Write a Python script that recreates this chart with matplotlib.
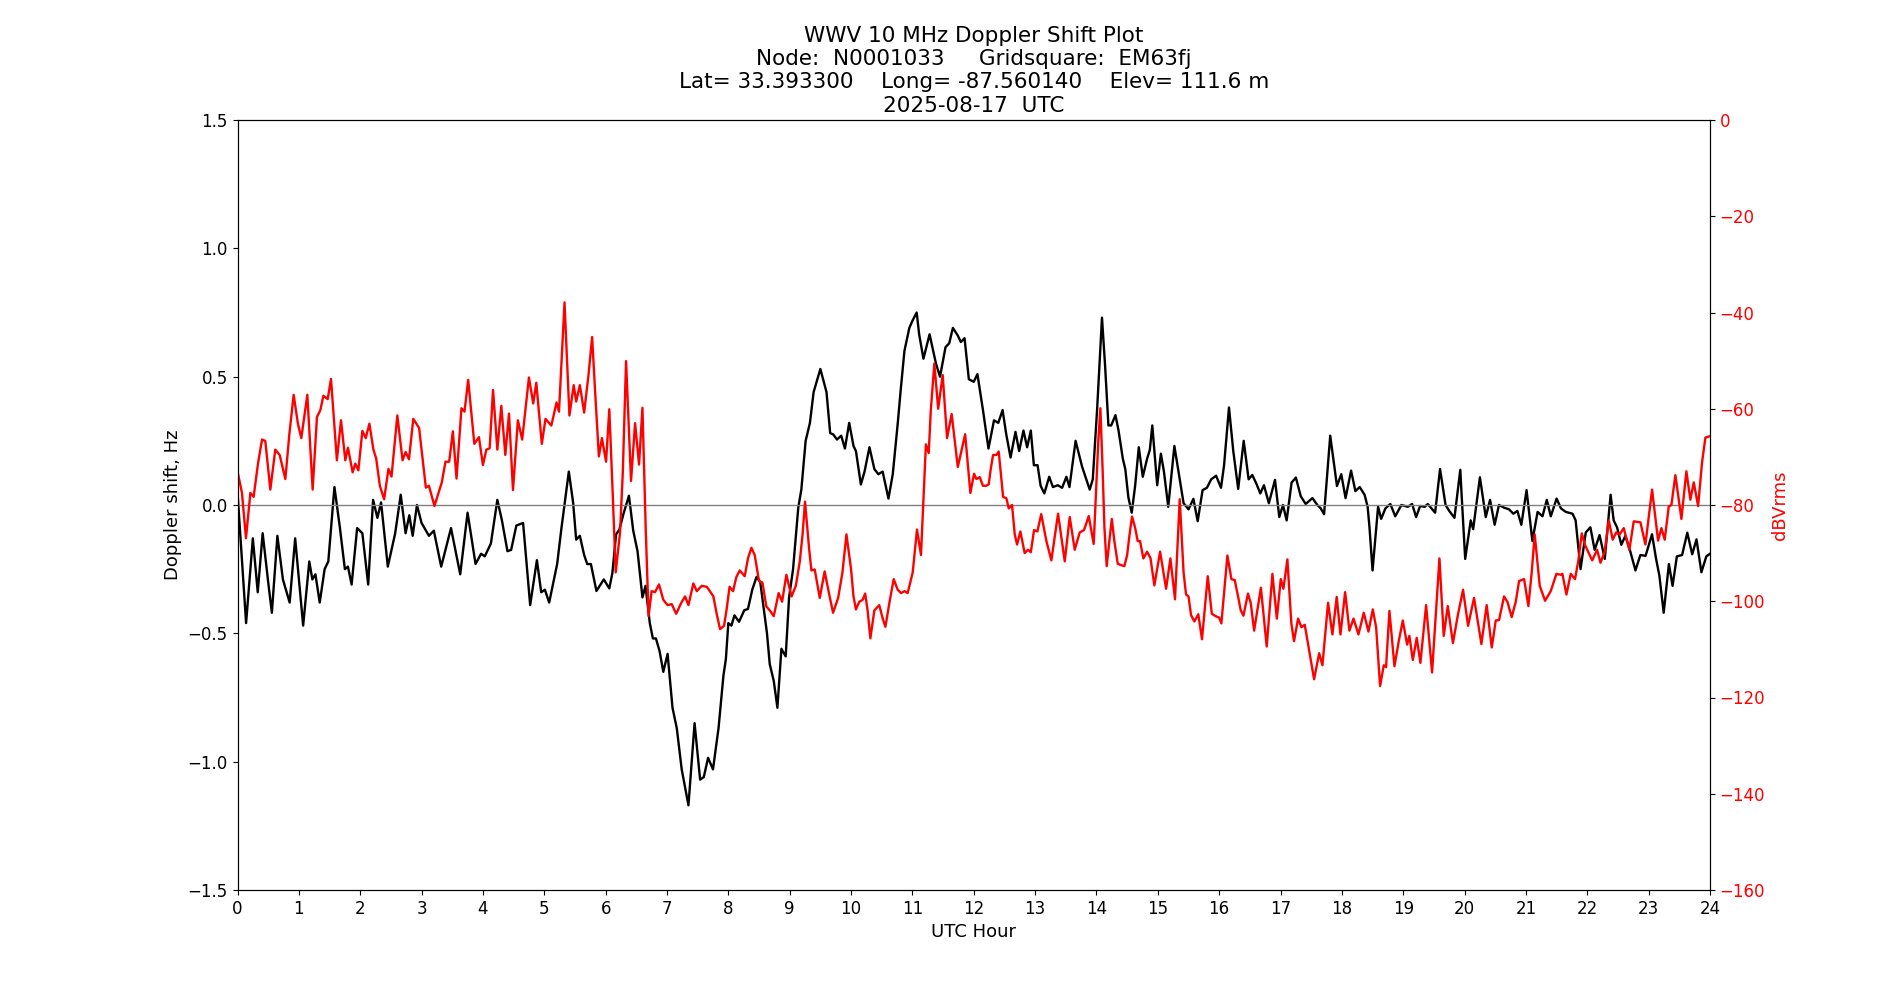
import numpy as np
import matplotlib
matplotlib.use('Agg')
import matplotlib.pyplot as plt

#--------------------------------------------------#
title_lines = ['WWV 10 MHz Doppler Shift Plot',
               'Node:  N0001033     Gridsquare:  EM63fj',
               'Lat= 33.393300    Long= -87.560140    Elev= 111.6 m',
               '2025-08-17  UTC']
xname = 'UTC Hour'
y1name = 'Doppler shift, Hz'
y2name = 'dBVrms'
hour_ticks = list(range(0, 25))
shift_ticks = [-1.5, -1.0, -0.5, 0.0, 0.5, 1.0, 1.5]
power_ticks = [-160, -140, -120, -100, -80, -60, -40, -20, 0]

#Doppler shift (Hz), one line per 2 hours.
shift_hr = [0.0, 0.14, 0.25, 0.33, 0.41, 0.50, 0.56, 0.65, 0.74, 0.85, 0.94, 1.07, 1.17, 1.22, 1.27, 1.34, 1.42, 1.48, 1.58, 1.67, 1.75, 1.80, 1.86, 1.95,
            2.035, 2.13, 2.21, 2.28, 2.34, 2.45, 2.57, 2.66, 2.74, 2.80, 2.855, 2.925, 3.0, 3.12, 3.20, 3.32, 3.48, 3.63, 3.75, 3.88, 3.97,
            4.03, 4.13, 4.235, 4.31, 4.40, 4.46, 4.545, 4.655, 4.77, 4.88, 4.95, 5.01, 5.08, 5.21, 5.28, 5.40, 5.47, 5.52, 5.58, 5.65, 5.70, 5.76, 5.85, 5.97,
            6.06, 6.11, 6.17, 6.225, 6.29, 6.38, 6.45, 6.52, 6.60, 6.65, 6.72, 6.77, 6.82, 6.88, 6.94, 7.01, 7.09, 7.16, 7.24, 7.35, 7.45, 7.54, 7.60, 7.67, 7.75, 7.84, 7.92, 7.96,
            8.0, 8.05, 8.10, 8.175, 8.26, 8.32, 8.39, 8.46, 8.52, 8.58, 8.63, 8.675, 8.74, 8.80, 8.865, 8.935, 8.99, 9.055, 9.14, 9.19, 9.26, 9.33, 9.39, 9.50, 9.60, 9.66, 9.71, 9.77, 9.84, 9.90, 9.97,
            10.04, 10.08, 10.16, 10.22, 10.30, 10.38, 10.445, 10.515, 10.61, 10.68, 10.76, 10.81, 10.87, 10.95, 11.005, 11.07, 11.11, 11.18, 11.28, 11.34, 11.385, 11.45, 11.54, 11.60, 11.66, 11.74, 11.79, 11.85, 11.92,
            12.0, 12.06, 12.15, 12.24, 12.33, 12.40, 12.47, 12.53, 12.60, 12.68, 12.74, 12.81, 12.87, 12.93, 12.98, 13.04, 13.09, 13.15, 13.23, 13.29, 13.37, 13.44, 13.51, 13.56, 13.66, 13.765, 13.89, 13.94,
            14.01, 14.09, 14.14, 14.195, 14.24, 14.31, 14.36, 14.43, 14.47, 14.52, 14.575, 14.63, 14.69, 14.755, 14.825, 14.87, 14.91, 14.99, 15.05, 15.10, 15.17, 15.27, 15.35, 15.42, 15.50, 15.58, 15.65, 15.73, 15.80, 15.87, 15.95,
            16.03, 16.08, 16.16, 16.23, 16.31, 16.40, 16.48, 16.54, 16.61, 16.67, 16.73, 16.81, 16.91, 16.98, 17.04, 17.10, 17.18, 17.25, 17.33, 17.41, 17.52, 17.60, 17.655, 17.71, 17.81, 17.92,
            17.99, 18.06, 18.15, 18.22, 18.29, 18.37, 18.42, 18.45, 18.50, 18.59, 18.64, 18.71, 18.79, 18.87, 18.97, 19.075, 19.145, 19.21, 19.275, 19.35, 19.40, 19.52, 19.60, 19.69, 19.75, 19.835, 19.93,
            19.95, 20.01, 20.10, 20.14, 20.25, 20.345, 20.415, 20.49, 20.56, 20.64, 20.725, 20.795, 20.86, 20.925, 21.01, 21.105, 21.19, 21.27, 21.34, 21.405, 21.50, 21.57, 21.65, 21.76, 21.81, 21.89,
            21.975, 22.05, 22.12, 22.20, 22.285, 22.38, 22.43, 22.485, 22.555, 22.62, 22.70, 22.785, 22.865, 22.95, 23.055, 23.12, 23.175, 23.245, 23.33, 23.39, 23.46, 23.545, 23.63, 23.71, 23.78, 23.86, 23.94, 24.0]
shift_hz = [0.05, -0.46, -0.13, -0.34, -0.11, -0.30, -0.42, -0.12, -0.29, -0.38, -0.13, -0.47, -0.22, -0.29, -0.27, -0.38, -0.25, -0.22, 0.07, -0.09, -0.25, -0.24, -0.31, -0.09,
            -0.11, -0.31, 0.02, -0.05, 0.01, -0.24, -0.11, 0.04, -0.11, -0.04, -0.12, 0.0, -0.07, -0.12, -0.10, -0.24, -0.09, -0.27, -0.03, -0.23, -0.19,
            -0.20, -0.15, 0.02, -0.06, -0.18, -0.175, -0.08, -0.07, -0.39, -0.215, -0.34, -0.33, -0.38, -0.23, -0.09, 0.13, 0.01, -0.135, -0.12, -0.195, -0.23, -0.23, -0.335, -0.29,
            -0.325, -0.265, -0.115, -0.095, -0.035, 0.036, -0.10, -0.18, -0.36, -0.315, -0.46, -0.52, -0.52, -0.57, -0.65, -0.58, -0.79, -0.87, -1.03, -1.17, -0.85, -1.07, -1.06, -0.985, -1.03, -0.87, -0.665, -0.60,
            -0.46, -0.47, -0.43, -0.455, -0.41, -0.405, -0.33, -0.28, -0.30, -0.41, -0.50, -0.62, -0.685, -0.79, -0.56, -0.59, -0.36, -0.25, -0.01, 0.06, 0.25, 0.32, 0.44, 0.53, 0.44, 0.28, 0.275, 0.255, 0.27, 0.22, 0.32,
            0.23, 0.21, 0.08, 0.13, 0.225, 0.14, 0.12, 0.13, 0.025, 0.12, 0.315, 0.45, 0.60, 0.69, 0.72, 0.75, 0.665, 0.57, 0.665, 0.60, 0.55, 0.50, 0.615, 0.63, 0.69, 0.66, 0.635, 0.65, 0.49,
            0.48, 0.51, 0.37, 0.22, 0.33, 0.32, 0.37, 0.275, 0.185, 0.285, 0.21, 0.29, 0.225, 0.29, 0.155, 0.155, 0.075, 0.045, 0.11, 0.07, 0.077, 0.067, 0.11, 0.07, 0.25, 0.15, 0.06, 0.10,
            0.37, 0.73, 0.545, 0.31, 0.31, 0.35, 0.29, 0.18, 0.14, 0.03, -0.03, 0.074, 0.225, 0.11, 0.18, 0.215, 0.31, 0.077, 0.20, 0.13, -0.007, 0.23, 0.11, 0.007, -0.017, 0.024, -0.063, 0.058, 0.067, 0.10, 0.114,
            0.067, 0.155, 0.38, 0.21, 0.063, 0.25, 0.10, 0.117, 0.081, 0.045, 0.077, 0.007, 0.098, -0.047, 0.0, -0.06, 0.087, 0.107, 0.034, 0.004, 0.027, 0.0, -0.013, -0.036, 0.27, 0.074,
            0.12, 0.027, 0.134, 0.054, 0.07, 0.04, -0.007, -0.087, -0.255, -0.007, -0.054, -0.013, 0.004, -0.044, 0.0, -0.007, 0.004, -0.047, -0.004, -0.007, 0.004, -0.03, 0.14, 0.0, -0.023, -0.05, 0.137,
            0.047, -0.21, -0.06, -0.094, 0.108, -0.047, 0.02, -0.077, 0.0, -0.01, -0.017, -0.034, -0.023, -0.077, 0.058, -0.14, -0.027, -0.044, 0.02, -0.044, 0.025, -0.013, -0.027, -0.034, -0.06, -0.25,
            -0.107, -0.087, -0.175, -0.117, -0.21, 0.04, -0.06, -0.087, -0.155, -0.12, -0.18, -0.255, -0.195, -0.198, -0.114, -0.208, -0.275, -0.42, -0.23, -0.315, -0.20, -0.195, -0.108, -0.192, -0.134, -0.262, -0.20, -0.19]

#Received level (dBVrms), same layout.
power_hr = [0.0, 0.073, 0.138, 0.21, 0.263, 0.334, 0.40, 0.453, 0.535, 0.616, 0.687, 0.78, 0.845, 0.915, 0.986, 1.04, 1.138, 1.225, 1.295, 1.35, 1.40, 1.47, 1.524, 1.62, 1.687, 1.757, 1.80, 1.877, 1.92,
            1.97, 2.035, 2.09, 2.15, 2.215, 2.26, 2.32, 2.39, 2.46, 2.51, 2.605, 2.69, 2.74, 2.795, 2.865, 2.96, 3.07, 3.12, 3.21, 3.33, 3.39, 3.45, 3.51, 3.57, 3.65, 3.70, 3.76, 3.86, 3.935,
            4.0, 4.056, 4.11, 4.165, 4.235, 4.30, 4.365, 4.425, 4.49, 4.57, 4.64, 4.75, 4.82, 4.87, 4.96, 5.02, 5.115, 5.20, 5.24, 5.33, 5.41, 5.48, 5.52, 5.58, 5.65, 5.72, 5.78, 5.83, 5.89, 5.94,
            6.007, 6.06, 6.115, 6.164, 6.235, 6.28, 6.333, 6.414, 6.48, 6.545, 6.60, 6.653, 6.70, 6.75, 6.805, 6.87, 6.94, 7.01, 7.077, 7.15, 7.23, 7.295, 7.35, 7.43, 7.485, 7.566, 7.65, 7.756, 7.81, 7.865, 7.93,
            7.97, 8.02, 8.077, 8.13, 8.186, 8.267, 8.32, 8.376, 8.43, 8.50, 8.555, 8.62, 8.675, 8.74, 8.82, 8.876, 8.946, 9.03, 9.10, 9.164, 9.21, 9.25, 9.316, 9.354, 9.408, 9.49, 9.57, 9.64, 9.707, 9.79, 9.86, 9.925,
            10.0, 10.04, 10.08, 10.135, 10.19, 10.23, 10.27, 10.315, 10.38, 10.46, 10.516, 10.56, 10.624, 10.695, 10.76, 10.815, 10.87, 10.923, 11.005, 11.075, 11.14, 11.178, 11.22, 11.266, 11.30, 11.358, 11.42, 11.494, 11.565, 11.64, 11.74, 11.86, 11.945,
            12.005, 12.043, 12.097, 12.15, 12.206, 12.244, 12.277, 12.315, 12.37, 12.407, 12.44, 12.478, 12.532, 12.57, 12.624, 12.668, 12.706, 12.76, 12.83, 12.885, 12.93, 12.983, 13.037, 13.10, 13.184, 13.265, 13.374, 13.483, 13.564, 13.646, 13.727, 13.798, 13.874, 13.955,
            13.993, 14.03, 14.064, 14.10, 14.13, 14.167, 14.21, 14.25, 14.292, 14.347, 14.40, 14.455, 14.50, 14.537, 14.58, 14.63, 14.672, 14.71, 14.765, 14.825, 14.88, 14.944, 15.037, 15.135, 15.205, 15.28, 15.357, 15.42, 15.46, 15.50, 15.542, 15.596, 15.66, 15.72, 15.814, 15.88, 15.944,
            16.0, 16.036, 16.08, 16.134, 16.2, 16.254, 16.308, 16.352, 16.395, 16.47, 16.515, 16.57, 16.68, 16.775, 16.868, 16.94, 17.004, 17.047, 17.112, 17.177, 17.22, 17.286, 17.34, 17.395, 17.465, 17.547, 17.63, 17.683, 17.775, 17.846, 17.916,
            17.977, 18.053, 18.123, 18.19, 18.27, 18.357, 18.433, 18.504, 18.558, 18.623, 18.683, 18.72, 18.775, 18.857, 18.927, 18.993, 19.063, 19.1, 19.156, 19.22, 19.28, 19.373, 19.47, 19.59, 19.66, 19.726, 19.81, 19.89, 19.975,
            20.057, 20.154, 20.274, 20.36, 20.443, 20.508, 20.562, 20.643, 20.698, 20.768, 20.834, 20.888, 20.97, 21.04, 21.094, 21.143, 21.187, 21.225, 21.312, 21.404, 21.497, 21.567, 21.594, 21.66, 21.73, 21.80, 21.855, 21.91,
            21.96, 22.013, 22.08, 22.16, 22.215, 22.284, 22.35, 22.415, 22.47, 22.523, 22.594, 22.686, 22.757, 22.866, 22.947, 23.056, 23.154, 23.208, 23.262, 23.328, 23.371, 23.436, 23.534, 23.615, 23.68, 23.735, 23.806, 23.871, 23.925, 24.0]
power_db = [-73.0, -77.5, -86.9, -77.5, -78.3, -71.4, -66.4, -66.7, -76.8, -68.5, -69.6, -74.6, -65.3, -57.1, -63.2, -66.1, -57.1, -76.8, -61.7, -60.3, -57.3, -58.0, -53.8, -70.7, -62.4, -70.7, -68.1, -73.2, -71.4,
            -72.8, -64.6, -66.1, -63.1, -68.5, -70.3, -76.0, -78.8, -72.5, -74.1, -61.4, -70.7, -69.0, -70.5, -62.1, -64.0, -76.4, -76.0, -80.2, -75.3, -71.0, -71.0, -64.7, -74.5, -59.9, -60.6, -54.0, -67.3, -65.9,
            -71.7, -68.5, -68.2, -56.1, -68.5, -59.4, -69.6, -61.0, -76.9, -62.4, -66.4, -53.5, -58.9, -54.6, -67.3, -62.1, -63.5, -58.7, -60.6, -37.9, -61.4, -55.1, -58.5, -55.1, -60.8, -53.1, -45.1, -56.7, -69.9, -66.1,
            -71.0, -60.1, -77.5, -94.0, -85.7, -73.2, -50.1, -75.0, -63.0, -71.6, -59.8, -84.7, -103.1, -97.9, -98.1, -96.5, -99.7, -100.8, -100.6, -102.6, -100.4, -99.0, -100.8, -96.3, -97.9, -96.8, -97.0, -99.0, -102.6, -105.8, -105.1,
            -101.9, -97.0, -97.9, -95.0, -93.6, -94.8, -91.1, -88.9, -90.4, -95.8, -96.1, -101.1, -101.9, -103.1, -98.3, -100.1, -94.5, -99.0, -96.8, -91.8, -86.1, -79.3, -89.0, -93.6, -93.4, -99.3, -93.8, -98.3, -102.4, -99.3, -94.0, -86.1,
            -93.3, -99.0, -101.7, -100.1, -99.7, -98.4, -101.9, -107.7, -101.9, -100.8, -103.6, -105.3, -100.4, -95.4, -97.6, -98.3, -97.9, -98.3, -94.0, -85.1, -90.4, -79.6, -67.4, -69.2, -60.3, -50.6, -60.0, -53.0, -66.1, -61.1, -72.1, -65.3, -77.5,
            -73.5, -74.6, -74.2, -76.0, -76.0, -75.7, -72.5, -69.6, -69.6, -68.9, -73.2, -78.3, -78.6, -80.7, -80.0, -86.1, -88.2, -85.5, -90.0, -89.3, -89.8, -85.2, -85.5, -81.9, -87.5, -91.5, -81.8, -91.7, -82.5, -89.3, -85.7, -85.2, -82.3, -88.1,
            -77.5, -66.7, -59.9, -72.5, -84.7, -92.7, -87.5, -82.9, -87.5, -92.2, -92.5, -92.7, -90.4, -86.4, -82.4, -84.7, -87.5, -87.5, -91.1, -89.7, -91.0, -96.7, -89.7, -97.4, -91.1, -99.6, -78.8, -94.0, -98.6, -99.0, -102.9, -104.2, -102.7, -107.9, -94.8, -102.6, -103.1,
            -103.4, -104.6, -98.3, -90.5, -95.4, -95.6, -99.0, -101.9, -103.0, -98.4, -100.4, -106.1, -97.2, -109.4, -94.3, -103.6, -95.4, -97.4, -91.3, -104.7, -108.3, -103.6, -105.4, -104.9, -110.1, -116.2, -110.8, -113.3, -100.3, -106.9, -99.1,
            -106.9, -98.1, -106.1, -103.6, -106.9, -102.4, -106.3, -101.7, -105.4, -117.6, -113.3, -113.7, -102.0, -113.5, -108.3, -104.0, -109.0, -107.2, -112.2, -107.6, -112.8, -100.8, -114.8, -91.1, -107.2, -101.0, -108.7, -102.9, -97.6,
            -105.1, -99.3, -108.9, -100.8, -109.6, -104.0, -103.9, -99.0, -100.1, -103.3, -100.1, -95.8, -95.4, -101.0, -94.0, -86.1, -91.8, -96.8, -99.9, -97.9, -94.3, -94.5, -94.3, -98.6, -94.3, -95.4, -91.5, -85.9,
            -88.2, -89.7, -91.5, -89.3, -92.0, -89.7, -83.2, -87.2, -85.7, -86.2, -84.8, -89.3, -83.4, -83.6, -88.2, -76.8, -87.4, -84.8, -87.2, -80.3, -80.0, -73.8, -82.9, -73.0, -78.9, -75.3, -80.2, -71.1, -66.0, -65.7]
#--------------------------------------------------#

plt.rcParams['font.size'] = 12

fig = plt.figure(figsize=(19, 10), dpi=100)
ax1 = fig.add_subplot(111)
ax2 = ax1.twinx()  #Second y axis for the signal level.

ax1.plot(shift_hr, shift_hz, color='k', linewidth=1.7)
ax1.axhline(0, color='gray', linewidth=1)  #Zero Doppler reference.
ax1.set_xlim(0, 24)
ax1.set_ylim(-1.5, 1.5)
ax1.set_xticks(hour_ticks)
ax1.set_yticks(shift_ticks)
ax1.set_xlabel(xname, fontsize=13)
ax1.set_ylabel(y1name, fontsize=13)
ax1.set_title('\n'.join(title_lines), fontsize=15.5)

ax2.plot(power_hr, power_db, color='r', linewidth=1.7)
ax2.set_ylim(-160, 0)
ax2.set_yticks(power_ticks)
ax2.set_ylabel(y2name, color='r', fontsize=13)
ax2.tick_params(axis='y', labelcolor='r')

fig.savefig('out.png', dpi=100)
